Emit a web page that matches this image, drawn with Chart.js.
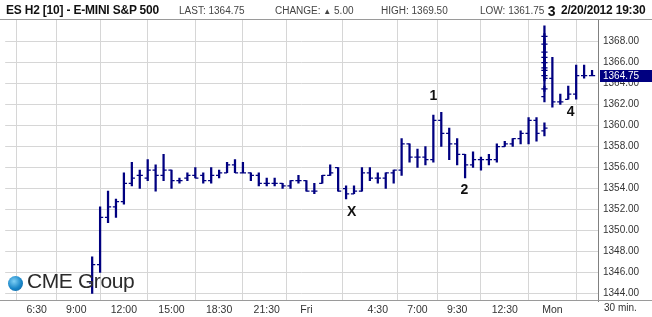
<!DOCTYPE html>
<html><head><meta charset="utf-8">
<script src="https://cdn.jsdelivr.net/npm/chart.js@4/dist/chart.umd.min.js"></script>
<style>
html,body{margin:0;padding:0;background:#fff;}
#wrap{position:relative;width:652px;height:317px;overflow:hidden;font-family:"Liberation Sans",Arial,sans-serif;}
#c{position:absolute;left:0;top:0;}
.t{position:absolute;white-space:nowrap;}
.hb{font-family:"Liberation Sans",Arial,sans-serif;font-weight:bold;font-size:13px;color:#111;top:2px;transform-origin:0 0;transform:scaleX(0.92);letter-spacing:-0.2px}
.hs{font-size:10px;color:#444;top:5px;}
.line{position:absolute;background:#9a9a9a;}
</style></head>
<body><div id="wrap">
<canvas id="c" width="652" height="317"></canvas>
<div class="line" style="left:0;top:19px;width:652px;height:1px;"></div>
<div class="line" style="left:0;top:300px;width:652px;height:1px;"></div>
<div class="t hb" style="left:6px;">ES H2 [10] - E-MINI S&amp;P 500</div>
<div class="t hs" style="left:179px;">LAST: 1364.75</div>
<div class="t hs" style="left:275px;">CHANGE: <span style="font-size:8px">&#9650;</span> 5.00</div>
<div class="t hs" style="left:381px;">HIGH: 1369.50</div>
<div class="t hs" style="left:480px;">LOW: 1361.75</div>
<div class="t hb" style="left:561px;">2/20/2012 19:30</div>
<div class="t" style="left:604px;top:302px;font-size:10px;color:#333;">30 min.</div>
<div class="t" style="left:8px;top:276px;width:15px;height:15px;border-radius:50%;background:radial-gradient(circle at 40% 35%,#7fd0f5,#1a86c8 55%,#0b5f9a);"></div>
<div class="t" style="left:27px;top:269px;font-size:21px;color:#2b2b2b;letter-spacing:-0.4px;">CME Group</div>
</div>
<script>
// ---- data ----
const barSlots = [7,8,9,10,11,12,13,14,15,16,17,18,19,20,21,22,23,24,25,26,27,28,29,30,31,32,33,34,35,36,37,38,39,40,41,42,43,44,45,46,47,48,49,50,51,52,53,54,55,56,57,58,59,60,61,62,63,64,
  64,64,64,64,64,64,64,64,64,64,
  65,66,67,68,69,70];
const opens = [1345.0,1346.75,1351.25,1352.25,1352.75,1354.5,1355.25,1355.0,1355.75,1355.25,1355.75,1354.75,1355.0,1355.25,1355.25,1354.75,1355.25,1355.5,1356.25,1355.5,1355.5,1355.25,1354.5,1354.5,1354.5,1354.25,1354.75,1354.75,1353.75,1354.5,1355.25,1356.0,1354.0,1353.5,1353.75,1355.5,1355.0,1355.0,1355.5,1355.75,1358.25,1357.0,1357.0,1356.75,1360.5,1359.25,1358.25,1357.25,1356.25,1356.75,1356.75,1356.75,1358.0,1358.25,1358.75,1359.25,1360.5,1359.5,
  1362.75,1363.5,1364.75,1365.5,1366.5,1368.5,1367.75,1367.0,1366.0,1365.25,
  1364.5,1362.25,1362.5,1363.0,1364.75,1364.75];
const highs = [1347.5,1352.25,1353.75,1353.0,1355.5,1356.5,1355.75,1356.75,1356.25,1357.25,1355.75,1355.0,1355.5,1356.0,1355.5,1356.0,1355.75,1356.5,1356.75,1356.5,1355.5,1355.5,1355.0,1355.0,1354.5,1354.75,1355.25,1354.75,1354.5,1355.25,1356.25,1356.0,1354.25,1354.25,1356.0,1356.0,1355.5,1355.5,1355.75,1358.75,1358.25,1357.75,1358.0,1361.0,1361.25,1359.75,1358.75,1357.25,1357.5,1357.0,1357.25,1358.25,1358.5,1358.75,1359.5,1360.75,1360.75,1360.25,
  1363.75,1365.0,1366.25,1367.0,1369.5,1368.75,1368.25,1367.5,1366.5,1366.0,
  1366.5,1363.0,1363.75,1365.75,1365.75,1365.25];
const lows = [1344.0,1346.0,1350.75,1351.25,1352.5,1354.25,1354.0,1354.75,1353.75,1354.75,1354.0,1354.5,1354.75,1355.0,1354.5,1354.5,1355.0,1355.5,1355.5,1355.5,1354.75,1354.25,1354.25,1354.25,1354.0,1354.0,1354.5,1353.75,1353.5,1354.5,1355.25,1353.75,1353.0,1353.5,1353.75,1354.75,1354.5,1354.0,1354.5,1355.25,1356.5,1356.0,1356.25,1356.5,1358.0,1356.75,1356.25,1355.0,1356.0,1355.75,1356.25,1356.5,1358.0,1358.0,1358.25,1358.25,1358.5,1359.0,
  1362.25,1363.25,1364.5,1365.25,1366.25,1367.25,1366.75,1365.75,1365.0,1364.25,
  1361.75,1362.0,1362.5,1362.5,1364.5,1364.75];
const closes = [1346.75,1351.25,1352.25,1352.75,1354.5,1355.0,1355.25,1355.75,1355.25,1355.75,1354.75,1354.75,1355.25,1355.0,1354.75,1355.25,1355.5,1356.25,1355.5,1355.5,1355.25,1354.5,1354.5,1354.5,1354.25,1354.75,1354.75,1353.75,1353.75,1355.25,1355.5,1353.75,1353.5,1353.75,1355.5,1355.0,1355.0,1355.5,1355.75,1358.25,1357.0,1357.0,1356.75,1360.5,1359.25,1358.25,1357.25,1356.25,1356.75,1356.75,1356.75,1358.0,1358.25,1358.75,1359.25,1360.5,1359.25,1359.75,
  1363.5,1364.75,1365.5,1366.5,1368.5,1367.75,1367.0,1366.0,1365.25,1364.5,
  1362.25,1362.25,1363.0,1364.75,1364.75,1364.75];
const tickSlots = [0,5,11,17,23,29,34,43,48,53,59,65];
const tickLabels = ['6:30','9:00','12:00','15:00','18:30','21:30','Fri','4:30','7:00','9:30','12:30','Mon'];
const priceTicks = [1344,1346,1348,1350,1352,1354,1356,1358,1360,1362,1364,1366,1368];
const lastPrice = 1364.75;
const annoTexts = ['1','2','3','4','X'];
const annoSlots = [50.0,53.9,64.9,67.3,39.7];
const annoPrices = [1362.8,1353.85,1370.8,1361.3,1351.75];

// ---- styles ----
const NAVY = '#000080';
const TICK_OFF = 0.19;

const annoPlugin = {
  id:'anno',
  afterDraw(chart){
    const {ctx, scales:{x,y}} = chart;
    ctx.save();
    ctx.fillStyle = '#111';
    ctx.font = 'bold 14px "Liberation Sans", Arial';
    ctx.textAlign = 'center'; ctx.textBaseline = 'middle';
    annoTexts.forEach((t,i)=>ctx.fillText(t, x.getPixelForValue(annoSlots[i]), y.getPixelForValue(annoPrices[i])));
    // last price box
    const py = Math.round(y.getPixelForValue(lastPrice));
    ctx.fillStyle = NAVY;
    ctx.fillRect(y.left+2, py-6, 652-(y.left+2), 12);
    ctx.fillStyle = '#fff';
    ctx.font = '10px "Liberation Sans", Arial';
    ctx.textAlign = 'left';
    ctx.fillText(lastPrice.toFixed(2), y.left+5, py);
    ctx.restore();
  }
};

new Chart(document.getElementById('c'), {
  type:'bar',
  data:{
    datasets:[
      {type:'bar', data: barSlots.map((s,i)=>({x:s, y:[lows[i], highs[i]]})), backgroundColor:NAVY, barThickness:1.6, grouped:false, borderWidth:0, order:1},
      {type:'line', showLine:false, data: barSlots.map((s,i)=>({x:s-TICK_OFF, y:opens[i]})), pointStyle:'line', pointRadius:1.6, pointBorderColor:NAVY, pointBorderWidth:1.2, order:0},
      {type:'line', showLine:false, data: barSlots.map((s,i)=>({x:s+TICK_OFF, y:closes[i]})), pointStyle:'line', pointRadius:1.6, pointBorderColor:NAVY, pointBorderWidth:1.2, order:0}
    ]
  },
  options:{
    responsive:false, animation:false, events:[],
    layout:{padding:{top:20,left:0,right:0,bottom:0}},
    plugins:{legend:{display:false}, tooltip:{enabled:false}},
    scales:{
      x:{type:'linear', min:-3.96, max:70.75, offset:false,
        afterBuildTicks:(s)=>{s.ticks = tickSlots.map(v=>({value:v}));},
        afterFit:(s)=>{s.height=16;},
        ticks:{autoSkip:false, maxRotation:0, padding:3, color:'#333', font:{size:10.5,family:'"Liberation Sans", Arial'},
          callback:(v)=>{const i=tickSlots.indexOf(v); return i>=0?tickLabels[i]:'';}},
        grid:{color:'#d6d6d6', drawTicks:false},
        border:{display:false}
      },
      y:{type:'linear', position:'right', min:1343.29, max:1370.05,
        afterBuildTicks:(s)=>{s.ticks = priceTicks.map(v=>({value:v}));},
        afterFit:(s)=>{s.width=54;},
        ticks:{padding:5, color:'#333', font:{size:10,family:'"Liberation Sans", Arial'}, callback:(v)=>Number(v).toFixed(2)},
        grid:{color:'#d6d6d6', drawTicks:false},
        border:{display:true, color:'#808080', width:1}
      }
    }
  },
  plugins:[annoPlugin]
});
</script>
</body></html>
